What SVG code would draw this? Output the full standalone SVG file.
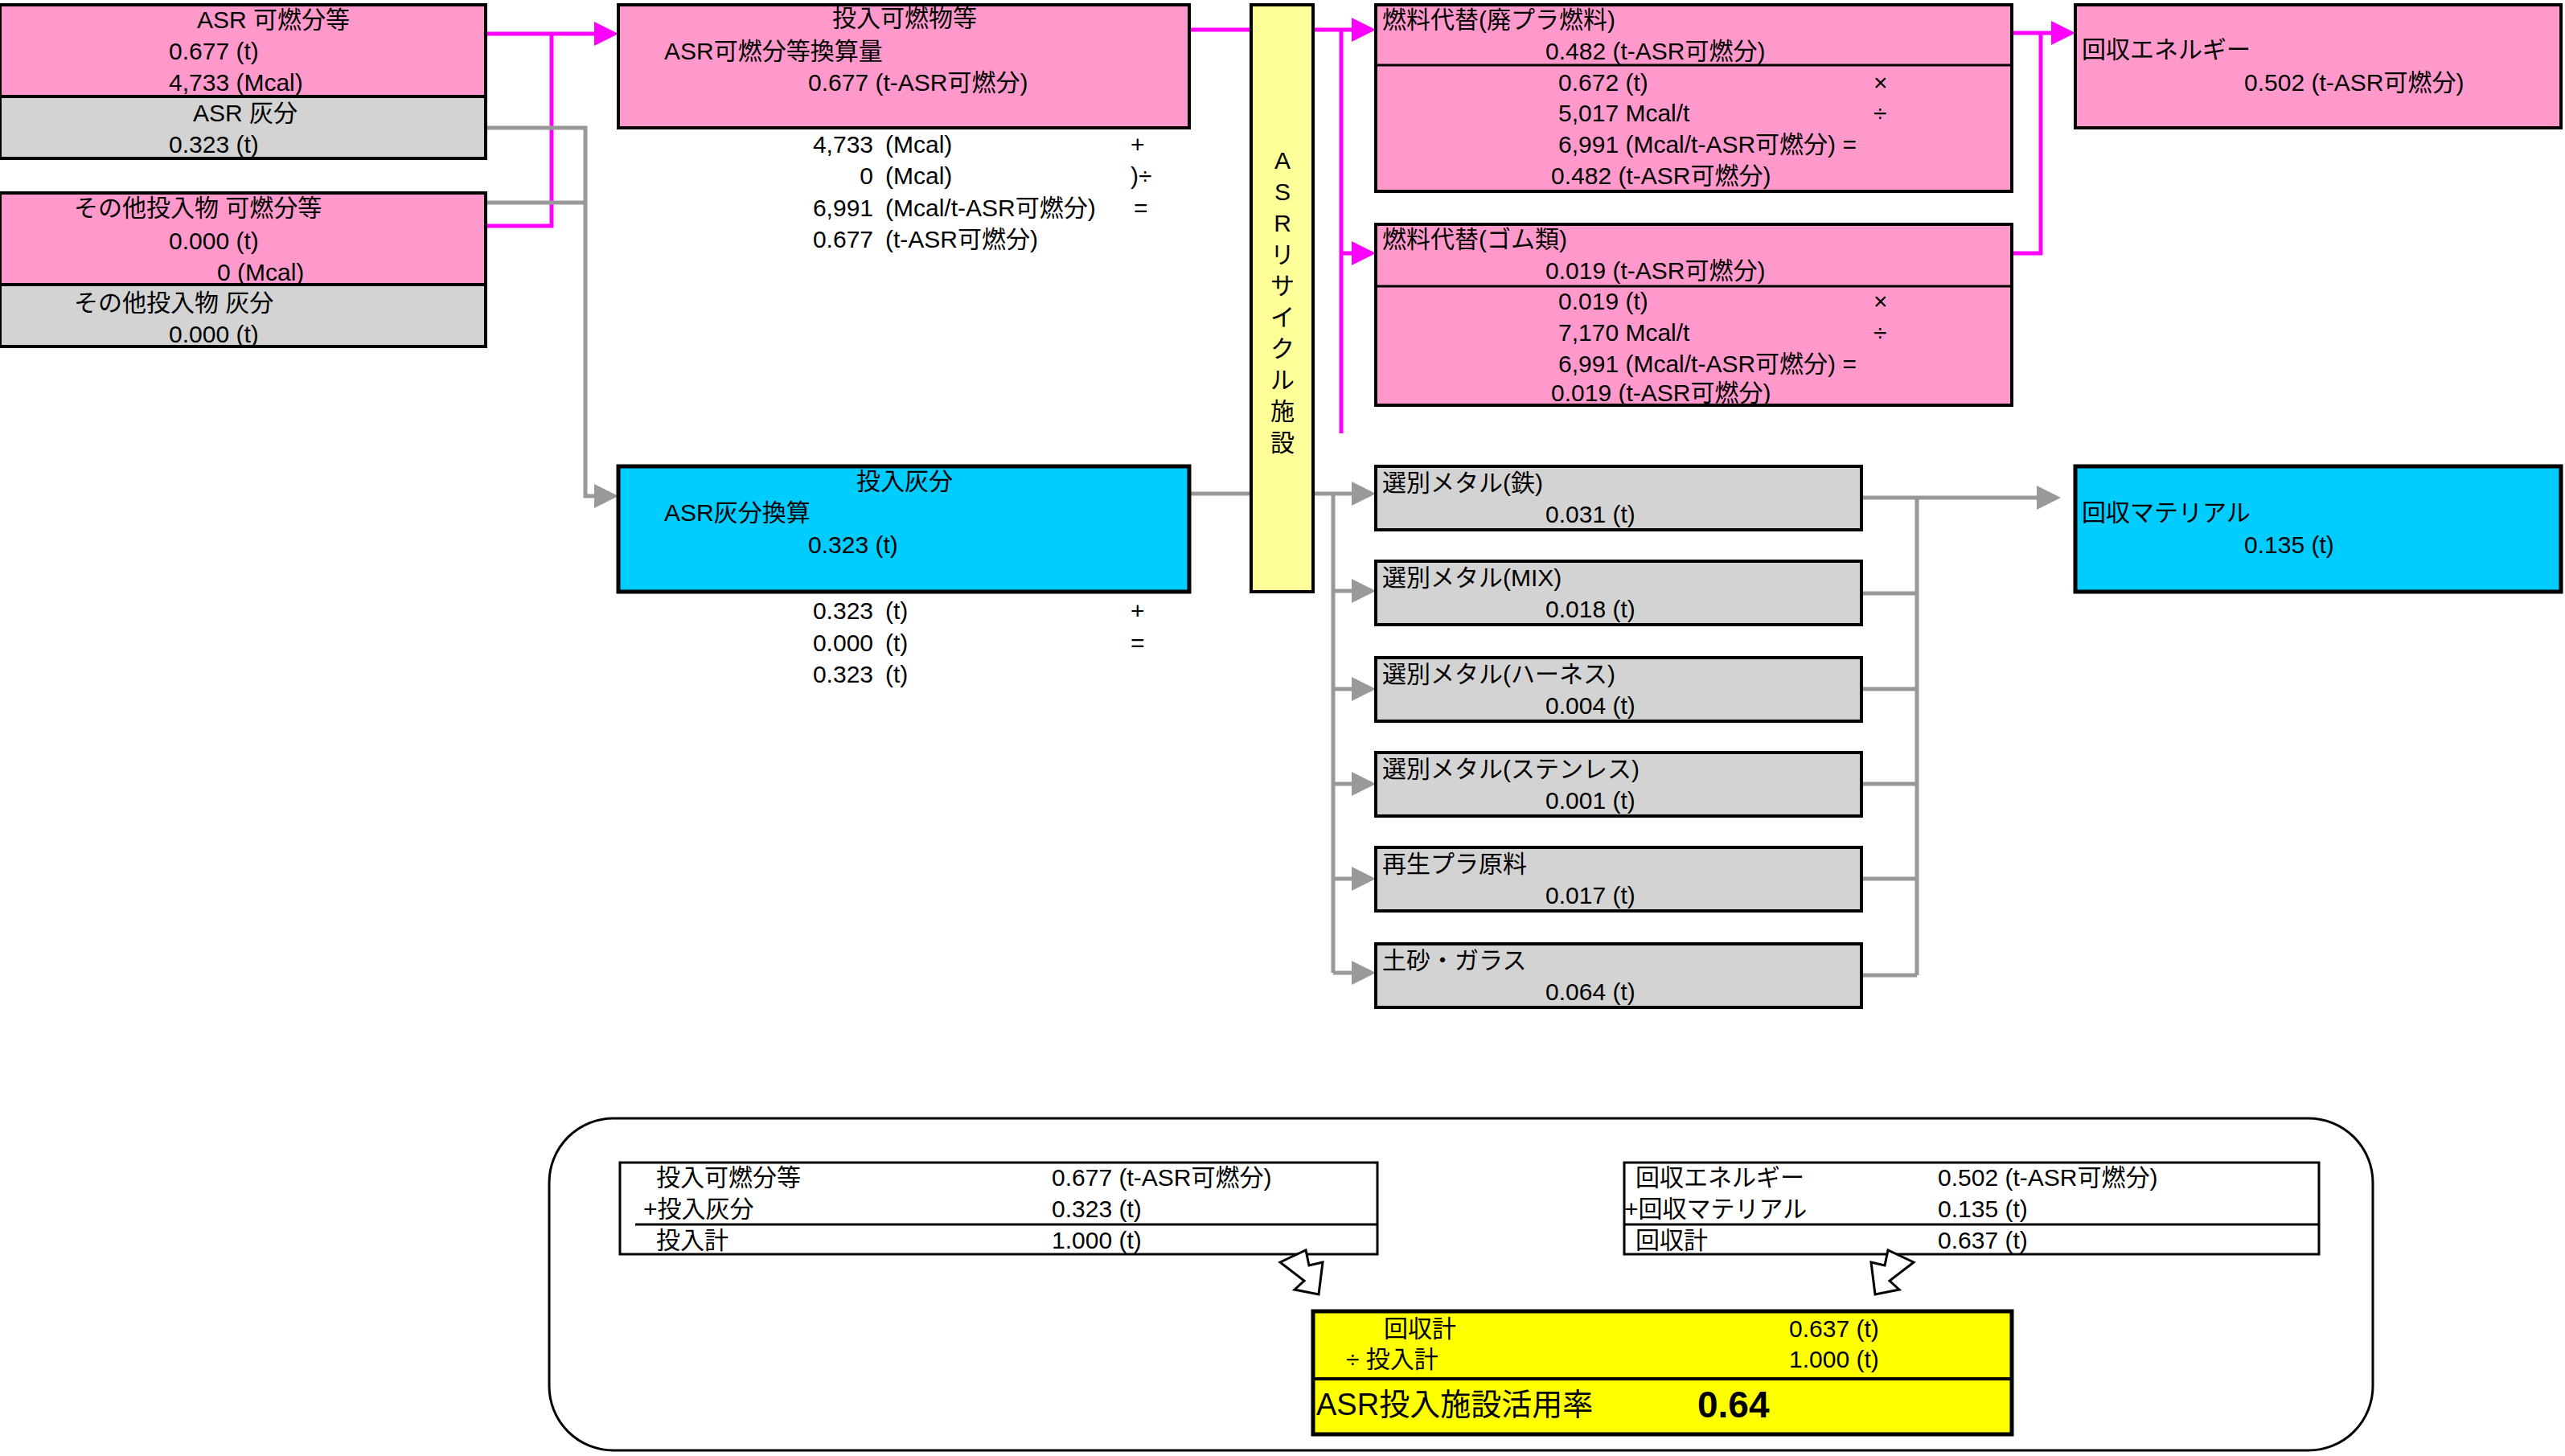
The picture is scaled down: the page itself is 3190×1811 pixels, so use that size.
<svg xmlns="http://www.w3.org/2000/svg" width="3190" height="1811" viewBox="0 0 3190 1811">
<style>
text{font-family:"Liberation Sans","Noto Sans CJK JP",sans-serif;font-size:30px;fill:#000;dominant-baseline:central}
.pk{fill:#ff99cc;stroke:#000;stroke-width:4}
.gr{fill:#d3d3d3;stroke:#000;stroke-width:4}
.bl{fill:#00ccff;stroke:#000;stroke-width:5}
.ye{fill:#ffff99;stroke:#000;stroke-width:4}
.m{stroke:#ff00ff;stroke-width:5;fill:none}
.g{stroke:#999;stroke-width:5;fill:none}
.c{text-anchor:middle}
.r{text-anchor:end}
</style>
<defs>
<marker id="am" markerWidth="6" markerHeight="6" refX="5" refY="3" orient="auto" markerUnits="strokeWidth"><path d="M0,0 L6,3 L0,6 z" fill="#ff00ff"/></marker>
<marker id="ag" markerWidth="6" markerHeight="6" refX="5" refY="3" orient="auto" markerUnits="strokeWidth"><path d="M0,0 L6,3 L0,6 z" fill="#999"/></marker>
</defs>
<g id="connectors">
<path class="m" d="M604,42 H764" marker-end="url(#am)"/>
<path class="m" d="M686,42 V281 H604"/>
<path class="g" d="M604,159 H728 V617 H764" marker-end="url(#ag)"/>
<path class="g" d="M604,252 H728"/>
<path class="m" d="M1479,37 H1556"/>
<path class="m" d="M1633,37 H1706" marker-end="url(#am)"/>
<path class="m" d="M1668,37 V539"/>
<path class="m" d="M1668,315 H1706" marker-end="url(#am)"/>
<path class="m" d="M2502,41 H2576" marker-end="url(#am)"/>
<path class="m" d="M2538,41 V315 H2502"/>
<path class="g" d="M1479,614 H1556"/>
<path class="g" d="M1633,614 H1706" marker-end="url(#ag)"/>
<path class="g" d="M1658,614 V1210"/>
<path class="g" d="M1658,735 H1706" marker-end="url(#ag)"/>
<path class="g" d="M1658,857 H1706" marker-end="url(#ag)"/>
<path class="g" d="M1658,975 H1706" marker-end="url(#ag)"/>
<path class="g" d="M1658,1093 H1706" marker-end="url(#ag)"/>
<path class="g" d="M1658,1210 H1706" marker-end="url(#ag)"/>
<path class="g" d="M2315,619 H2558" marker-end="url(#ag)"/>
<path class="g" d="M2384,619 V1213"/>
<path class="g" d="M2315,738 H2384 M2315,857 H2384 M2315,975 H2384 M2315,1093 H2384 M2315,1213 H2384"/>
</g>
<g id="asr">
<rect class="pk" x="0" y="6" width="604" height="114"/>
<text x="340" y="24" class="c">ASR 可燃分等</text>
<text x="210" y="63">0.677 (t)</text>
<text x="210" y="102">4,733 (Mcal)</text>
<rect class="gr" x="0" y="120" width="604" height="77"/>
<text x="305" y="140" class="c">ASR 灰分</text>
<text x="210" y="179">0.323 (t)</text>
</g>
<g id="other">
<rect class="pk" x="0" y="240" width="604" height="114"/>
<text x="92" y="258">その他投入物 可燃分等</text>
<text x="210" y="299">0.000 (t)</text>
<text x="270" y="338">0 (Mcal)</text>
<rect class="gr" x="0" y="354" width="604" height="77"/>
<text x="92" y="376">その他投入物 灰分</text>
<text x="210" y="415">0.000 (t)</text>
</g>
<g id="input-comb">
<rect class="pk" x="769" y="6" width="710" height="153"/>
<text x="1125" y="22" class="c">投入可燃物等</text>
<text x="826" y="63">ASR可燃分等換算量</text>
<text x="1005" y="102">0.677 (t-ASR可燃分)</text>
<text x="1086" y="179" class="r">4,733</text><text x="1101" y="179">(Mcal)</text><text x="1406" y="179">+</text>
<text x="1086" y="218" class="r">0</text><text x="1101" y="218">(Mcal)</text><text x="1406" y="218">)÷</text>
<text x="1086" y="258" class="r">6,991</text><text x="1101" y="258">(Mcal/t-ASR可燃分)</text><text x="1410" y="258">=</text>
<text x="1086" y="297" class="r">0.677</text><text x="1101" y="297">(t-ASR可燃分)</text>
</g>
<g id="input-ash">
<rect class="bl" x="769" y="580" width="710" height="156"/>
<text x="1125" y="598" class="c">投入灰分</text>
<text x="826" y="637">ASR灰分換算</text>
<text x="1005" y="677">0.323 (t)</text>
<text x="1086" y="759" class="r">0.323</text><text x="1101" y="759">(t)</text><text x="1406" y="759">+</text>
<text x="1086" y="799" class="r">0.000</text><text x="1101" y="799">(t)</text><text x="1406" y="799">=</text>
<text x="1086" y="838" class="r">0.323</text><text x="1101" y="838">(t)</text>
</g>
<g id="facility">
<rect class="ye" x="1556" y="6" width="77" height="730"/>
<text x="1595" y="199" class="c">A</text><text x="1595" y="238" class="c">S</text><text x="1595" y="277" class="c">R</text>
<text x="1595" y="316" class="c">リ</text><text x="1595" y="355" class="c">サ</text><text x="1595" y="394" class="c">イ</text>
<text x="1595" y="433" class="c">ク</text><text x="1595" y="472" class="c">ル</text><text x="1595" y="511" class="c">施</text><text x="1595" y="550" class="c">設</text>
</g>
<g id="fuel-plastic">
<rect class="pk" x="1711" y="6" width="791" height="232"/>
<line x1="1711" y1="81" x2="2502" y2="81" stroke="#000" stroke-width="3"/>
<text x="1719" y="24">燃料代替(廃プラ燃料)</text>
<text x="1922" y="63">0.482 (t-ASR可燃分)</text>
<text x="1938" y="102">0.672 (t)</text><text x="2330" y="102">×</text>
<text x="1938" y="140">5,017 Mcal/t</text><text x="2330" y="140">÷</text>
<text x="1938" y="179">6,991 (Mcal/t-ASR可燃分) =</text>
<text x="1929" y="218">0.482 (t-ASR可燃分)</text>
</g>
<g id="fuel-rubber">
<rect class="pk" x="1711" y="279" width="791" height="225"/>
<line x1="1711" y1="356" x2="2502" y2="356" stroke="#000" stroke-width="3"/>
<text x="1719" y="297">燃料代替(ゴム類)</text>
<text x="1922" y="336">0.019 (t-ASR可燃分)</text>
<text x="1938" y="374">0.019 (t)</text><text x="2330" y="374">×</text>
<text x="1938" y="413">7,170 Mcal/t</text><text x="2330" y="413">÷</text>
<text x="1938" y="452">6,991 (Mcal/t-ASR可燃分) =</text>
<text x="1929" y="488">0.019 (t-ASR可燃分)</text>
</g>
<g id="energy">
<rect class="pk" x="2581" y="6" width="604" height="153"/>
<text x="2589" y="61">回収エネルギー</text>
<text x="2791" y="102">0.502 (t-ASR可燃分)</text>
</g>
<g id="material">
<rect class="bl" x="2581" y="580" width="604" height="156"/>
<text x="2589" y="637">回収マテリアル</text>
<text x="2791" y="677">0.135 (t)</text>
</g>
<g id="m1"><rect class="gr" x="1711" y="580" width="604" height="79"/><text x="1719" y="600">選別メタル(鉄)</text><text x="1922" y="639">0.031 (t)</text></g>
<g id="m2"><rect class="gr" x="1711" y="698" width="604" height="79"/><text x="1719" y="718">選別メタル(MIX)</text><text x="1922" y="757">0.018 (t)</text></g>
<g id="m3"><rect class="gr" x="1711" y="818" width="604" height="79"/><text x="1719" y="838">選別メタル(ハーネス)</text><text x="1922" y="877">0.004 (t)</text></g>
<g id="m4"><rect class="gr" x="1711" y="936" width="604" height="79"/><text x="1719" y="956">選別メタル(ステンレス)</text><text x="1922" y="995">0.001 (t)</text></g>
<g id="m5"><rect class="gr" x="1711" y="1054" width="604" height="79"/><text x="1719" y="1074">再生プラ原料</text><text x="1922" y="1113">0.017 (t)</text></g>
<g id="m6"><rect class="gr" x="1711" y="1174" width="604" height="79"/><text x="1719" y="1194">土砂・ガラス</text><text x="1922" y="1233">0.064 (t)</text></g>
<g id="summary">
<rect x="683" y="1391" width="2268" height="413" rx="80" fill="#fff" stroke="#000" stroke-width="3"/>
<rect x="771" y="1446" width="942" height="114" fill="#fff" stroke="#000" stroke-width="3"/>
<line x1="790" y1="1523" x2="1713" y2="1523" stroke="#000" stroke-width="3"/>
<text x="816" y="1464">投入可燃分等</text><text x="1308" y="1464">0.677 (t-ASR可燃分)</text>
<text x="800" y="1503">+投入灰分</text><text x="1308" y="1503">0.323 (t)</text>
<text x="816" y="1542">投入計</text><text x="1308" y="1542">1.000 (t)</text>
<rect x="2020" y="1446" width="864" height="114" fill="#fff" stroke="#000" stroke-width="3"/>
<line x1="2020" y1="1523" x2="2884" y2="1523" stroke="#000" stroke-width="3"/>
<text x="2034" y="1464">回収エネルギー</text><text x="2410" y="1464">0.502 (t-ASR可燃分)</text>
<text x="2020" y="1503">+回収マテリアル</text><text x="2410" y="1503">0.135 (t)</text>
<text x="2034" y="1542">回収計</text><text x="2410" y="1542">0.637 (t)</text>
<path d="M1592,1570 L1624,1555 L1628,1574 L1645,1570 L1640,1610 L1610,1604 L1622,1593 Z" fill="#fff" stroke="#000" stroke-width="3"/>
<path d="M2380,1570 L2348,1555 L2344,1574 L2327,1570 L2332,1610 L2362,1604 L2350,1593 Z" fill="#fff" stroke="#000" stroke-width="3"/>
<rect x="1633" y="1631" width="869" height="153" fill="#ffff00" stroke="#000" stroke-width="5"/>
<line x1="1633" y1="1715" x2="2502" y2="1715" stroke="#000" stroke-width="4"/>
<text x="1721" y="1652">回収計</text><text x="2225" y="1652">0.637 (t)</text>
<text x="1674" y="1690">÷ 投入計</text><text x="2225" y="1690">1.000 (t)</text>
<text x="1637" y="1747" style="font-size:38px">ASR投入施設活用率</text>
<text x="2111" y="1747" style="font-size:46px;font-weight:bold">0.64</text>
</g>
</svg>
